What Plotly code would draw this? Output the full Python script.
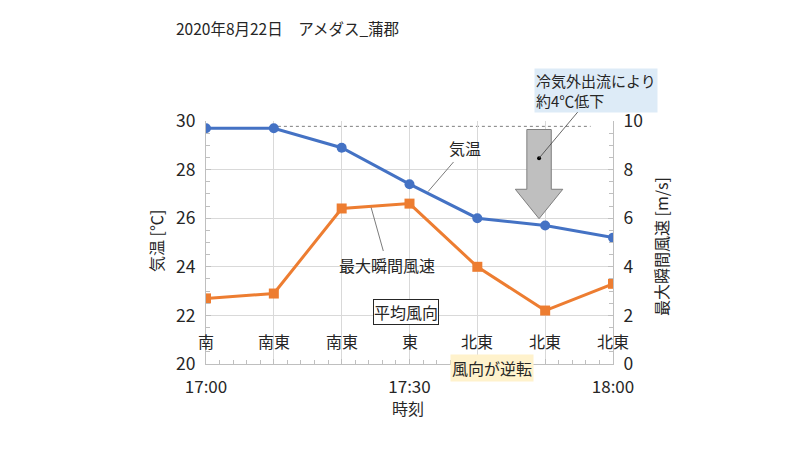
import plotly.graph_objects as go

minutes = [0, 10, 20, 30, 40, 50, 60]
tick_text = ["17:00", "", "", "17:30", "", "", "18:00"]
temperature = [29.7, 29.7, 28.9, 27.4, 26.0, 25.7, 25.2]
wind_gust = [2.7, 2.9, 6.4, 6.6, 4.0, 2.2, 3.3]
wind_dir = ["南", "南東", "南東", "東", "北東", "北東", "北東"]

FONT = "Noto Sans CJK JP, Noto Sans, sans-serif"
BLUE = "#4472C4"
ORANGE = "#ED7D31"
GRID = "#D9D9D9"
AXIS = "#BFBFBF"
TXT = "#262626"

L, R, T, B = 206, 187, 121, 86
PW, PH = 800 - L - R, 450 - T - B


def px(x):
    return (x - L) / PW


def py(y):
    return (450 - B - y) / PH


fig = go.Figure()
fig.add_trace(go.Scatter(x=minutes, y=temperature, mode="lines+markers", name="気温",
                         line=dict(color=BLUE, width=3),
                         marker=dict(symbol="circle", size=10, color=BLUE), yaxis="y"))
fig.add_trace(go.Scatter(x=minutes, y=wind_gust, mode="lines+markers", name="最大瞬間風速",
                         line=dict(color=ORANGE, width=3),
                         marker=dict(symbol="square", size=10, color=ORANGE), yaxis="y2"))

ann = []
for m, d in zip(minutes, wind_dir):
    ann.append(dict(x=m, y=20.95, xref="x", yref="y", text=d, showarrow=False,
                    font=dict(size=16, color=TXT), xanchor="center", yanchor="middle"))

ann += [
    dict(x=29.5, y=22.14, xref="x", yref="y", text="平均風向", showarrow=False,
         font=dict(size=16, color=TXT), bgcolor="white", bordercolor=TXT,
         borderwidth=1, borderpad=0, xanchor="center", yanchor="middle"),
    dict(x=px(492), y=py(368), xref="paper", yref="paper",
         text="風向が逆転", showarrow=False, font=dict(size=16, color=TXT),
         bgcolor="#FFF2CC", borderpad=1, xanchor="center", yanchor="middle"),
    dict(x=49.1, y=28.47, xref="x", yref="y", text="冷気外出流により<br>約4℃低下",
         align="left", showarrow=True, arrowhead=0, arrowwidth=0.8, arrowcolor="#404040",
         ax=57, ay=-68, font=dict(size=15, color=TXT), bgcolor="#DDEBF7", borderpad=1),
    dict(x=32.75, y=27.10, xref="x", yref="y", text="気温", showarrow=True, arrowhead=0,
         arrowwidth=0.8, arrowcolor="#595959", ax=37, ay=-43,
         font=dict(size=16, color=TXT)),
    dict(x=24.34, y=26.44, xref="x", yref="y", text="最大瞬間風速", showarrow=True, arrowhead=0,
         arrowwidth=0.8, arrowcolor="#595959", ax=16, ay=57,
         font=dict(size=16, color=TXT)),
    dict(x=px(408), y=py(408), xref="paper", yref="paper", text="時刻",
         showarrow=False, font=dict(size=16, color=TXT), xanchor="center", yanchor="middle"),
    dict(x=px(156), y=py(241), xref="paper", yref="paper", text="気温 [℃]",
         textangle=-90, showarrow=False, font=dict(size=16, color=TXT),
         xanchor="center", yanchor="middle"),
    dict(x=px(661), y=py(247), xref="paper", yref="paper",
         text="最大瞬間風速 [m/s]", textangle=-90, showarrow=False,
         font=dict(size=16, color=TXT), xanchor="center", yanchor="middle"),
]

shapes = [
    dict(type="line", xref="x", yref="y", x0=10.6, x1=56.7, y0=29.78, y1=29.78,
         line=dict(color="#7F7F7F", width=1, dash="dot"), layer="below"),
    dict(type="path", xref="x", yref="y",
         path="M 47.3,29.65 L 50.9,29.65 L 50.9,27.19 L 52.6,27.19 L 49.1,25.98 "
              "L 45.6,27.19 L 47.3,27.19 Z",
         fillcolor="#BFBFBF", line=dict(color="#7F7F7F", width=1), layer="above"),
    dict(type="circle", xref="x", yref="y", xsizemode="pixel", ysizemode="pixel",
         xanchor=49.1, yanchor=28.47, x0=-2, x1=2, y0=-2, y1=2,
         fillcolor="black", line=dict(color="black", width=0), layer="above"),
]

fig.update_layout(
    width=800, height=450,
    margin=dict(l=L, r=R, t=T, b=B),
    paper_bgcolor="white", plot_bgcolor="white",
    font=dict(family=FONT, color=TXT),
    showlegend=False,
    title=dict(text="2020年8月22日　アメダス_蒲郡", x=176 / 800, xanchor="left",
               y=1 - 30 / 450, yanchor="middle", xref="container", yref="container",
               font=dict(size=15.5, color=TXT)),
    xaxis=dict(range=[0, 60], tickvals=minutes, ticktext=tick_text, showgrid=True,
               gridcolor=GRID, gridwidth=1, showline=True, linecolor=AXIS, linewidth=1,
               ticks="inside", ticklen=5, tickcolor=AXIS, zeroline=False,
               tickfont=dict(size=17, color=TXT), ticklabelstandoff=8,
               minor=dict(dtick=2, ticks="inside", ticklen=4, tickcolor=AXIS, showgrid=False)),
    yaxis=dict(range=[20, 30], dtick=2, showgrid=True, gridcolor=GRID, gridwidth=1,
               showline=True, linecolor=AXIS, linewidth=1, ticks="inside", ticklen=5,
               tickcolor=AXIS, zeroline=False, tickfont=dict(size=17.5, color=TXT),
               ticklabelstandoff=6,
               minor=dict(dtick=0.5, ticks="inside", ticklen=4, tickcolor=AXIS, showgrid=False)),
    yaxis2=dict(range=[0, 10], dtick=2, overlaying="y", side="right", showgrid=False,
                showline=True, linecolor=AXIS, linewidth=1, ticks="inside", ticklen=5,
                tickcolor=AXIS, zeroline=False, tickfont=dict(size=17.5, color=TXT),
                ticklabelstandoff=6,
                minor=dict(dtick=0.5, ticks="inside", ticklen=4, tickcolor=AXIS, showgrid=False)),
    annotations=ann,
    shapes=shapes,
)

fig.write_html("out.html", config={"displayModeBar": False},
               post_script="document.body.style.margin='0';")
